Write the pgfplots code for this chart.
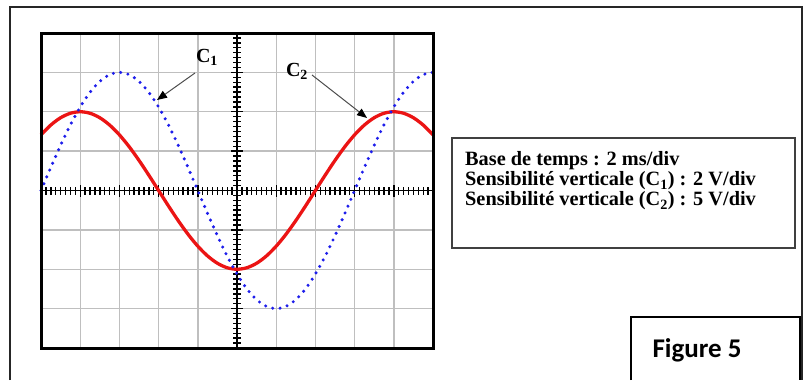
\documentclass[border=0pt]{standalone}
\usepackage{pgfplots}
\pgfplotsset{compat=1.18}
\usepackage{fontspec}
\setmainfont{Liberation Serif}
\newfontfamily\calibri{Carlito}
\usetikzlibrary{arrows.meta}
\definecolor{scopered}{RGB}{235,20,20}
\definecolor{scopeblue}{RGB}{30,30,235}
\begin{document}
\begin{tikzpicture}[x=1pt,y=1pt]
\useasboundingbox (0,0) rectangle (808,380);
% grid
\begin{axis}[at={(41pt,32pt)}, anchor=south west, scale only axis,
  width=392pt, height=315pt, xmin=-5, xmax=5, ymin=-4, ymax=4,
  xtick={-5,...,5}, ytick={-4,...,4}, xticklabels={}, yticklabels={},
  major tick length=0pt, grid=major,
  major grid style={gray!50, line width=1.4pt},
  axis line style={draw=none}]
\addplot[draw=none] coordinates {(0,0)};
\end{axis}
% central graduated axes + signals
\begin{axis}[at={(41pt,32pt)}, anchor=south west, scale only axis,
  width=392pt, height=315pt, xmin=-5, xmax=5, ymin=-4, ymax=4,
  axis lines=middle, axis line style={-, line width=1.6pt, black},
  xtick={-5,...,5}, ytick={-4,...,4}, minor x tick num=7, minor y tick num=7,
  xticklabels={}, yticklabels={}, tick align=center,
  major tick length=12pt, minor tick length=8pt,
  every tick/.style={black, line width=1.4pt},
  hide obscured x ticks=false, hide obscured y ticks=false, clip=false]
% C2 (red, solid)
\addplot[scopered, line width=3.3pt, smooth] coordinates {
(-5,1.414) (-4.75,1.663) (-4.5,1.848) (-4.25,1.962) (-4,2) (-3.75,1.962)
(-3.5,1.848) (-3.25,1.663) (-3,1.414) (-2.75,1.111) (-2.5,0.765) (-2.25,0.390)
(-2,0) (-1.75,-0.390) (-1.5,-0.765) (-1.25,-1.111) (-1,-1.414) (-0.75,-1.663)
(-0.5,-1.848) (-0.25,-1.962) (0,-2) (0.25,-1.962) (0.5,-1.848) (0.75,-1.663)
(1,-1.414) (1.25,-1.111) (1.5,-0.765) (1.75,-0.390) (2,0) (2.25,0.390)
(2.5,0.765) (2.75,1.111) (3,1.414) (3.25,1.663) (3.5,1.848) (3.75,1.962)
(4,2) (4.25,1.962) (4.5,1.848) (4.75,1.663) (5,1.414)};
% C1 (blue, dotted)
\addplot[scopeblue, line width=3.4pt, line cap=round, dash pattern=on 0pt off 7.4pt, smooth] coordinates {
(-5,0) (-4.75,0.585) (-4.5,1.148) (-4.25,1.667) (-4,2.121) (-3.75,2.494)
(-3.5,2.772) (-3.25,2.942) (-3,3) (-2.75,2.942) (-2.5,2.772) (-2.25,2.494)
(-2,2.121) (-1.75,1.667) (-1.5,1.148) (-1.25,0.585) (-1,0) (-0.75,-0.585)
(-0.5,-1.148) (-0.25,-1.667) (0,-2.121) (0.25,-2.494) (0.5,-2.772) (0.75,-2.942)
(1,-3) (1.25,-2.942) (1.5,-2.772) (1.75,-2.494) (2,-2.121) (2.25,-1.667)
(2.5,-1.148) (2.75,-0.585) (3,0) (3.25,0.585) (3.5,1.148) (3.75,1.667)
(4,2.121) (4.25,2.494) (4.5,2.772) (4.75,2.942) (5,3)};
\draw[black, line width=3pt] (rel axis cs:0,0) rectangle (rel axis cs:1,1);
\end{axis}
% labels and arrows
\node[font=\bfseries\fontsize{20}{20}\selectfont] at (207,323) {C\textsubscript{1}};
\node[font=\bfseries\fontsize{20}{20}\selectfont] at (297,309) {C\textsubscript{2}};
\draw[gray!60!black, line width=1pt, -{Triangle[length=10pt,width=8pt,color=black]}] (195,307) -- (157,280);
\draw[gray!60!black, line width=1pt, -{Triangle[length=10pt,width=8pt,color=black]}] (312,305) -- (367,262);
% outer frame
\draw[line width=1.3pt, black!85] (10,0) -- (10,373) -- (802,373) -- (802,0);
% info box
\draw[line width=1.2pt, black!75] (452,132) rectangle (795,242);
\node[anchor=base west, inner sep=0pt, font=\bfseries\fontsize{20.3}{20}\selectfont] at (465,214) {Base de temps : 2 ms/div};
\node[anchor=base west, inner sep=0pt, font=\bfseries\fontsize{20.3}{20}\selectfont] at (465,194) {Sensibilité verticale (C\textsubscript{1}) : 2 V/div};
\node[anchor=base west, inner sep=0pt, font=\bfseries\fontsize{20.3}{20}\selectfont] at (465,174) {Sensibilité verticale (C\textsubscript{2}) : 5 V/div};
% figure box
\draw[line width=1.3pt] (631,0) -- (631,63) -- (800,63) -- (800,0);
\node[anchor=base, inner sep=0pt, font=\calibri\bfseries\fontsize{27}{27}\selectfont] at (697,23) {Figure 5};
\end{tikzpicture}
\end{document}
